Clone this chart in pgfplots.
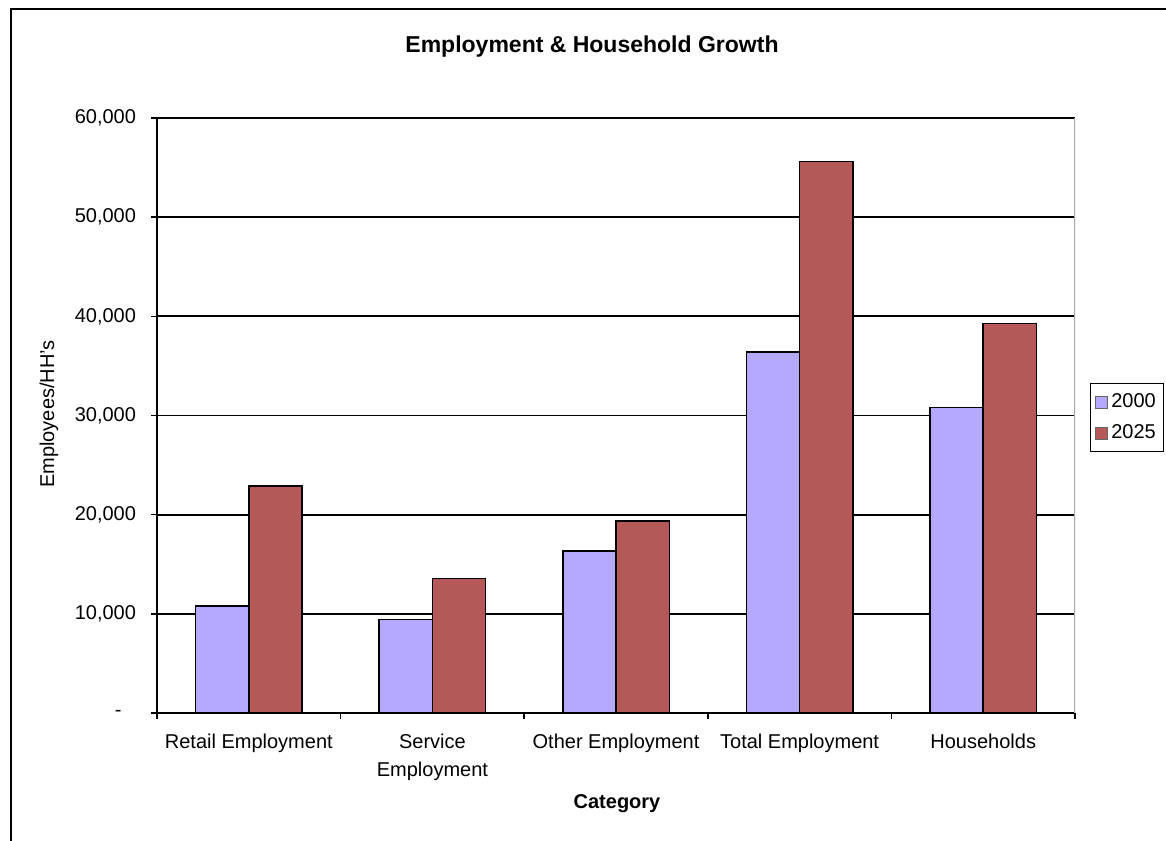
\documentclass[border=0pt]{standalone}
\usepackage{pgfplots}
\pgfplotsset{compat=1.18}
\usepackage{fontspec}
\setmainfont{Liberation Sans}
\definecolor{lav}{RGB}{180,168,255}
\definecolor{brick}{RGB}{180,88,88}
\begin{document}
\begin{tikzpicture}[x=1pt,y=1pt]
\path[use as bounding box] (0,0) rectangle (583,420);
\draw[line width=1pt] (5.5,-20) -- (5.5,415.25) -- (620,415.25);
\node[font=\bfseries\fontsize{11.5}{13}\selectfont] at (296,396.5) {Employment \& Household Growth};
\node[font=\bfseries\fontsize{10}{12}\selectfont] at (308.5,18) {Category};
\node[rotate=90, font=\fontsize{10}{12}\selectfont] at (24.5,213) {Employees/HH's};
\begin{axis}[
  at={(78.5pt,63.5pt)}, anchor=south west,
  scale only axis, width=459pt, height=297.5pt,
  ybar=0pt, bar width=0.29,
  xmin=-0.5, xmax=4.5, ymin=0, ymax=60000,
  scaled y ticks=false,
  axis x line*=bottom, axis y line*=left,
  axis line style={-, black, line width=0.8pt},
  tick align=outside,
  xtick={0,1,2,3,4},
  xticklabels={Retail Employment, {Service\\Employment}, Other Employment, Total Employment, Households},
  xticklabel style={align=center, font=\fontsize{10}{14}\selectfont, yshift=-4pt},
  major x tick style={draw=none},
  minor xtick={-0.5,0.5,1.5,2.5,3.5,4.5},
  minor tick length=3pt,
  minor x tick style={black, line width=0.8pt},
  ytick={0,10000,20000,30000,40000,50000,60000},
  yticklabels={{\makebox[10.5pt][l]{-}},{10,000},{20,000},{30,000},{40,000},{50,000},{60,000}},
  yticklabel style={font=\fontsize{10}{12}\selectfont, xshift=-4pt},
  major tick length=3pt,
  major y tick style={black, line width=0.8pt},
  ymajorgrids, major grid style={black, line width=0.85pt},
  legend image code/.code={\draw[#1, draw=black!60, line width=0.4pt] (0pt,-3pt) rectangle (6pt,3pt);},
  legend style={at={(1.0163,0.5546)}, anchor=north west, draw=black, line width=0.6pt,
    font=\fontsize{10}{12}\selectfont, row sep=3pt, inner xsep=2pt, inner ysep=3pt},
]
\addplot[fill=lav, draw=black, line width=0.75pt] coordinates {(0,10800) (1,9450) (2,16350) (3,36400) (4,30800)};
\addplot[fill=brick, draw=black, line width=0.75pt] coordinates {(0,22900) (1,13550) (2,19350) (3,55600) (4,39300)};
\legend{2000,2025}
\draw[gray!70, line width=0.8pt] (rel axis cs:1,0) -- (rel axis cs:1,1);
\end{axis}
\end{tikzpicture}
\end{document}
